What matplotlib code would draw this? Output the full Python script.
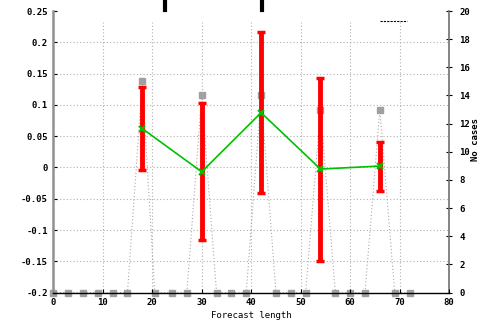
import matplotlib
matplotlib.use("Agg")
import matplotlib.pyplot as plt
from matplotlib.lines import Line2D

# forecast length (h) and verification stats
lead = [18, 30, 42, 54, 66]
mean_err = [0.062, -0.007, 0.0875, -0.0026, 0.0022]
err_hi = [0.128, 0.1025, 0.2165, 0.143, 0.0406]
err_lo = [-0.004, -0.116, -0.0414, -0.150, -0.0377]

# number of cases (right axis)
case_x = [0, 3, 6, 9, 12, 15, 18, 20.5, 24, 27, 30, 33, 36, 39, 42, 45, 48,
          51, 54, 57, 60, 63, 66, 69, 72]
case_n = [0, 0, 0, 0, 0, 0, 15, 0, 0, 0, 14, 0, 0, 0, 14, 0, 0,
          0, 13, 0, 0, 0, 13, 0, 0]

xticks = [0, 10, 20, 30, 40, 50, 60, 70, 80]
yticks = [-0.2, -0.15, -0.1, -0.05, 0, 0.05, 0.1, 0.15, 0.2, 0.25]
ylabels = ['-0.2', '-0.15', '-0.1', '-0.05', '0', '0.05', '0.1', '0.15', '0.2', '0.25']
rticks = [0, 2, 4, 6, 8, 10, 12, 14, 16, 18, 20]

plt.rcParams['font.family'] = 'DejaVu Sans Mono'
plt.rcParams['font.weight'] = 'bold'
plt.rcParams['font.size'] = 6.5

fig = plt.figure(figsize=(4.84, 3.24), dpi=100)
ax = fig.add_axes([0.110, 0.097, 0.818, 0.869])
ax2 = ax.twinx()

ax.set_xlim(0, 80)
ax.set_ylim(-0.2, 0.25)
ax2.set_ylim(0, 20)

# grid, drawn by hand so the vertical lines stop short of the top
for y in yticks[1:-1]:
    ax.axhline(y, color='#b0b0b0', lw=0.8, ls=(0, (1, 2)), zorder=0)
for x in xticks[1:-1]:
    ax.axvline(x, ymax=0.96, color='#b0b0b0', lw=0.8, ls=(0, (1, 2)), zorder=0)

# cases on the right axis
ax2.plot(case_x, case_n, color='#a8a8a8', lw=0.8, ls=(0, (1, 2)),
         marker='s', ms=4, mfc='#a0a0a0', mec='#a0a0a0', clip_on=False, zorder=1)

# mean error with spread bars
ax.set_zorder(ax2.get_zorder() + 1)
ax.patch.set_visible(False)
yerr = [[m - lo for m, lo in zip(mean_err, err_lo)],
        [hi - m for m, hi in zip(mean_err, err_hi)]]
ax.errorbar(lead, mean_err, yerr=yerr, fmt='none', ecolor='#ff0000',
            elinewidth=3.5, capsize=3, capthick=2.5, zorder=3)
ax.plot(lead, mean_err, color='#00c000', lw=1.2, marker='x', ms=5,
        mew=1.5, zorder=4)

# axes styling
for a in (ax, ax2):
    a.spines['top'].set_visible(False)
ax.spines['left'].set_color('#909090')
ax.spines['left'].set_linewidth(1.8)
ax.spines['right'].set_visible(False)
ax.spines['bottom'].set_color('black')
ax.spines['bottom'].set_linewidth(1.0)
ax2.spines['left'].set_visible(False)
ax2.spines['bottom'].set_visible(False)
ax2.spines['right'].set_color('#707070')
ax2.spines['right'].set_linewidth(1.2)

ax.set_xticks(xticks)
ax.set_yticks(yticks)
ax.set_yticklabels(ylabels)
ax2.set_yticks(rticks)
ax.tick_params(direction='in', length=3, width=0.8, pad=4)
ax2.tick_params(direction='inout', length=5, width=0.8, pad=5)

ax.set_xlabel('Forecast length', labelpad=3)
fig.text(476 / 484, 1 - 140 / 324, 'No cases', rotation=90,
         ha='center', va='center')

# fragments of the cropped title and key
fig.add_artist(Line2D([165 / 484, 165 / 484], [1.0, 1 - 10 / 324], color='black', lw=3))
fig.add_artist(Line2D([262 / 484, 262 / 484], [1.0, 1 - 10 / 324], color='black', lw=3))
fig.add_artist(Line2D([380 / 484, 407 / 484], [1 - 21 / 324, 1 - 21 / 324],
                      color='black', lw=0.8, ls=(0, (2, 1))))

fig.savefig('out.png', dpi=100)
